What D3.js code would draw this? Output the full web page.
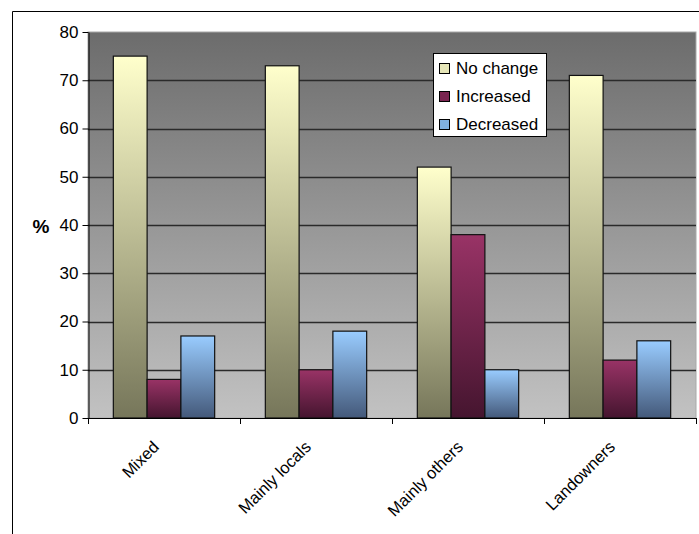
<!DOCTYPE html>
<html>
<head>
<meta charset="utf-8">
<script src="https://cdn.jsdelivr.net/npm/d3@7"></script>
<style>
  html, body { margin: 0; padding: 0; background: #fff; overflow: hidden; }
  svg { display: block; }
  svg text { font-family: Arial, "Liberation Sans", sans-serif; fill: #000; }
</style>
</head>
<body>
<div id="canvas"></div>
<script>
// categories and series
var categories = ['Mixed', 'Mainly locals', 'Mainly others', 'Landowners'];
var seriesNames = ['No change', 'Increased', 'Decreased'];
var noChange = [75, 73, 52, 71];
var increased = [8, 10, 38, 12];
var decreased = [17, 18, 10, 16];
var yTicks = [0, 10, 20, 30, 40, 50, 60, 70, 80];

var seriesValues = [noChange, increased, decreased];

// gradient colours for each series (top, bottom)
var grads = [
  ['#ffffcc', '#76765a'],
  ['#993366', '#45152f'],
  ['#99ccff', '#44597a']
];
var legendFill = ['#e6e6b8', '#7a2450', '#7fb0e0'];

var cv = { width: 699, height: 534, left: 88, top: 32, right: 696, bottom: 418 };

var svg = d3.select('#canvas').append('svg')
  .attr('width', cv.width)
  .attr('height', cv.height);

var defs = svg.append('defs');

var bg = defs.append('linearGradient').attr('id', 'bg')
  .attr('x1', 0).attr('y1', 0).attr('x2', 0).attr('y2', 1);
bg.append('stop').attr('offset', '0%').attr('stop-color', '#6c6c6c');
bg.append('stop').attr('offset', '100%').attr('stop-color', '#c2c2c2');

grads.forEach(function(g, i) {
  var lg = defs.append('linearGradient').attr('id', 'g' + i)
    .attr('x1', 0).attr('y1', 0).attr('x2', 0).attr('y2', 1);
  lg.append('stop').attr('offset', '0%').attr('stop-color', g[0]);
  lg.append('stop').attr('offset', '100%').attr('stop-color', g[1]);
});

// outer chart border: only top and left edges are inside the picture
svg.append('path')
  .attr('d', 'M12.5,' + cv.height + 'V11.5H' + cv.width)
  .attr('fill', 'none')
  .attr('stroke', '#000')
  .attr('stroke-width', 1);

//scales
var x = d3.scaleBand()
  .domain(categories)
  .range([cv.left, cv.right])
  .paddingInner(0).paddingOuter(0);

var y = d3.scaleLinear()
  .domain([0, 80])
  .range([cv.bottom, cv.top]);

var bw = x.bandwidth() / 4.5;

//plot area
svg.append('rect')
  .attr('x', cv.left).attr('y', cv.top)
  .attr('width', cv.right - cv.left)
  .attr('height', cv.bottom - cv.top)
  .attr('fill', 'url(#bg)')
  .attr('stroke', '#a8a8a8')
  .attr('stroke-width', 1);

//gridlines
svg.selectAll('.grid')
  .data(yTicks.filter(function(d) { return d > 0 && d < 80; }))
  .enter().append('line')
  .attr('class', 'grid')
  .attr('x1', cv.left).attr('x2', cv.right)
  .attr('y1', d => Math.round(y(d)) + 0.5)
  .attr('y2', d => Math.round(y(d)) + 0.5)
  .attr('stroke', '#2a2a2a')
  .attr('stroke-width', 1.3);

//bars
seriesValues.forEach(function(vals, s) {
  svg.selectAll('.bar' + s)
    .data(vals)
    .enter().append('rect')
    .attr('class', 'bar' + s)
    .attr('x', (d, i) => x(categories[i]) + bw * 0.75 + s * bw)
    .attr('y', d => y(d))
    .attr('width', bw)
    .attr('height', d => y(0) - y(d))
    .attr('fill', 'url(#g' + s + ')')
    .attr('stroke', '#111')
    .attr('stroke-width', 1.2);
});

//y axis
var yAxis = svg.append('g')
  .attr('transform', 'translate(' + (cv.left + 0.5) + ',0)')
  .call(d3.axisLeft(y).tickValues(yTicks).tickSize(6).tickSizeOuter(0).tickPadding(4));
yAxis.select('.domain').attr('stroke', '#000');
yAxis.selectAll('.tick line').attr('stroke', '#000');
yAxis.selectAll('text').style('font-size', '17px');

//x axis
var xAxisG = svg.append('g');
xAxisG.append('line')
  .attr('x1', cv.left).attr('x2', cv.right)
  .attr('y1', cv.bottom + 0.5).attr('y2', cv.bottom + 0.5)
  .attr('stroke', '#000');
xAxisG.selectAll('.xtick')
  .data(categories.concat(['end']))
  .enter().append('line')
  .attr('class', 'xtick')
  .attr('x1', (d, i) => Math.round(cv.left + i * x.bandwidth()) + 0.5)
  .attr('x2', (d, i) => Math.round(cv.left + i * x.bandwidth()) + 0.5)
  .attr('y1', cv.bottom).attr('y2', cv.bottom + 6)
  .attr('stroke', '#000');

xAxisG.selectAll('.xlabel')
  .data(categories)
  .enter().append('text')
  .attr('class', 'xlabel')
  .attr('transform', d => 'translate(' + (x(d) + x.bandwidth() / 2 - 4) + ',448) rotate(-45)')
  .attr('text-anchor', 'end')
  .style('font-size', '16.5px')
  .text(d => d);

// y axis title
svg.append('text')
  .attr('x', 41).attr('y', 233)
  .attr('text-anchor', 'middle')
  .style('font-size', '19px')
  .style('font-weight', 'bold')
  .text('%');

//legend
var lg = svg.append('g').attr('transform', 'translate(433,53)');
lg.append('rect')
  .attr('x', 0.5).attr('y', 0.5)
  .attr('width', 113).attr('height', 83)
  .attr('fill', '#fff')
  .attr('stroke', '#000');
var item = lg.selectAll('.item')
  .data(seriesNames)
  .enter().append('g')
  .attr('class', 'item')
  .attr('transform', (d, i) => 'translate(0,' + (15 + i * 28) + ')');
item.append('rect')
  .attr('x', 6.5).attr('y', -4.5)
  .attr('width', 10).attr('height', 10)
  .attr('fill', (d, i) => legendFill[i])
  .attr('stroke', '#000');
item.append('text')
  .attr('x', 23).attr('y', 6)
  .style('font-size', '17px')
  .text(d => d);
</script>
</body>
</html>
